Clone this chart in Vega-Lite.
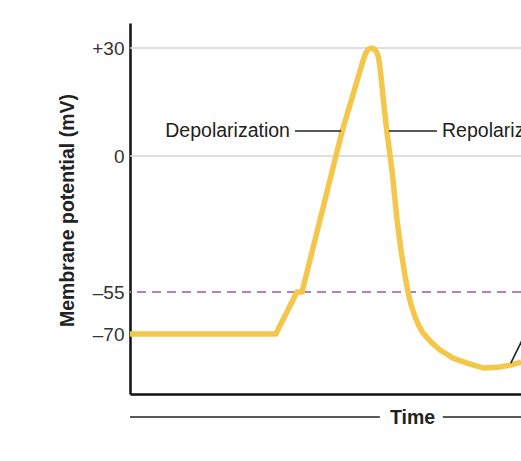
{
  "$schema": "https://vega.github.io/schema/vega-lite/v6.json",
  "width": 391,
  "height": 371,
  "autosize": {"type": "none"},
  "padding": {"left": 130, "top": 23, "right": 0, "bottom": 67},
  "background": "white",
  "config": {"view": {"stroke": null}, "font": "Liberation Sans"},
  "datasets": {
    "grid": [{"m": 30}, {"m": 0}],
    "threshold": [{"m": -55}],
    "curve": [
      {"t": 0, "m": -70}, {"t": 3.73, "m": -70}, {"t": 4.27, "m": -55}, {"t": 4.40, "m": -55},
      {"t": 5.42, "m": 6.67}, {"t": 5.97, "m": 26.8}, {"t": 6.03, "m": 28.6}, {"t": 6.10, "m": 29.7},
      {"t": 6.18, "m": 30}, {"t": 6.25, "m": 29.7}, {"t": 6.31, "m": 28.8}, {"t": 6.36, "m": 27.2},
      {"t": 6.41, "m": 23.0}, {"t": 6.48, "m": 15.6}, {"t": 6.57, "m": 6.67}, {"t": 6.70, "m": -5.66},
      {"t": 6.83, "m": -25.9}, {"t": 6.93, "m": -38.0}, {"t": 7.03, "m": -48.1}, {"t": 7.11, "m": -55},
      {"t": 7.19, "m": -59.6}, {"t": 7.29, "m": -63.9}, {"t": 7.39, "m": -67.1}, {"t": 7.49, "m": -69.6},
      {"t": 7.70, "m": -72.9}, {"t": 7.93, "m": -75.7}, {"t": 8.26, "m": -78.6}, {"t": 8.62, "m": -80.4},
      {"t": 9.03, "m": -82.1}, {"t": 9.39, "m": -81.9}, {"t": 9.72, "m": -81.1}, {"t": 10, "m": -80}
    ],
    "segments": [
      {"t": 4.22, "t2": 5.40, "m": 6.94, "m2": 6.94},
      {"t": 6.62, "t2": 7.85, "m": 6.94, "m2": 6.94},
      {"t": 9.74, "t2": 10.13, "m": -80.4, "m2": -69.3},
      {"t": 0, "t2": 6.39, "m": -99.6, "m2": -99.6},
      {"t": 8.0, "t2": 10.2, "m": -99.6, "m2": -99.6}
    ],
    "labelsRight": [{"t": 4.09, "m": 6.94, "label": "Depolarization"}],
    "labelsLeft": [{"t": 7.98, "m": 6.94, "label": "Repolarization"}]
  },
  "layer": [
    {
      "data": {"name": "grid"},
      "mark": {"type": "rule", "color": "#d6d6d6", "strokeWidth": 1.5},
      "encoding": {
        "y": {"field": "m", "type": "quantitative",
          "scale": {"domain": [-91.4, -70, -55, 0, 30, 37], "range": [371, 311, 269, 133, 25, 0], "nice": false, "zero": false}}
      }
    },
    {
      "data": {"name": "threshold"},
      "mark": {"type": "rule", "color": "#b87fbb", "strokeWidth": 2, "strokeDash": [9, 6]},
      "encoding": {"y": {"field": "m", "type": "quantitative"}}
    },
    {
      "data": {"name": "curve"},
      "mark": {"type": "line", "color": "#f4c649", "strokeWidth": 5.5, "strokeJoin": "round", "interpolate": "linear"},
      "encoding": {
        "x": {"field": "t", "type": "quantitative",
          "scale": {"domain": [0, 10], "nice": false, "zero": false},
          "axis": {"domainColor": "#111111", "domainWidth": 2.5, "ticks": false, "labels": false, "grid": false,
            "title": "Time", "titleFont": "Liberation Sans", "titleFontSize": 19.5, "titleFontWeight": "bold", "titleColor": "#222222",
            "titleX": 282, "titleY": 23, "titleBaseline": "middle", "titleAlign": "center"}},
        "y": {"field": "m", "type": "quantitative",
          "scale": {"domain": [-91.4, -70, -55, 0, 30, 37], "range": [371, 311, 269, 133, 25, 0], "nice": false, "zero": false},
          "axis": {"values": [30, 0, -55, -70],
            "labelExpr": "datum.value > 0 ? '+' + datum.value : (datum.value < 0 ? '–' + (-datum.value) : '0')",
            "ticks": false, "grid": false, "domainColor": "#111111", "domainWidth": 2.5,
            "labelFont": "Liberation Sans", "labelFontSize": 19, "labelColor": "#333333", "labelPadding": 6, "labelBaseline": "middle",
            "title": "Membrane potential (mV)", "titleFont": "Liberation Sans", "titleFontSize": 19.5, "titleFontWeight": "bold", "titleColor": "#222222",
            "titleX": -63, "titleY": 187, "titleBaseline": "middle", "titleAngle": -90, "titleAlign": "center"}}
      }
    },
    {
      "data": {"name": "segments"},
      "mark": {"type": "rule", "color": "#222222", "strokeWidth": 1.6},
      "encoding": {
        "x": {"field": "t", "type": "quantitative"},
        "x2": {"field": "t2"},
        "y": {"field": "m", "type": "quantitative"},
        "y2": {"field": "m2"}
      }
    },
    {
      "data": {"name": "labelsRight"},
      "mark": {"type": "text", "align": "right", "baseline": "middle", "fontSize": 19.5, "font": "Liberation Sans", "color": "#222222"},
      "encoding": {
        "x": {"field": "t", "type": "quantitative"},
        "y": {"field": "m", "type": "quantitative"},
        "text": {"field": "label"}
      }
    },
    {
      "data": {"name": "labelsLeft"},
      "mark": {"type": "text", "align": "left", "baseline": "middle", "fontSize": 19.5, "font": "Liberation Sans", "color": "#222222"},
      "encoding": {
        "x": {"field": "t", "type": "quantitative"},
        "y": {"field": "m", "type": "quantitative"},
        "text": {"field": "label"}
      }
    }
  ]
}
